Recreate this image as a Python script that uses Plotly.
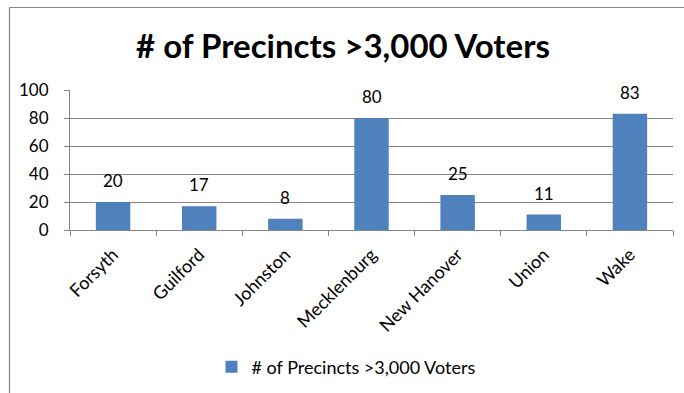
import plotly.graph_objects as go

counties = ["Forsyth", "Guilford", "Johnston", "Mecklenburg", "New Hanover", "Union", "Wake"]
precincts = [20, 17, 8, 80, 25, 11, 83]
series_name = "# of Precincts >3,000 Voters"
title_text = "# of Precincts >3,000 Voters"
y_ticks = [0, 20, 40, 60, 80, 100]

W, H = 684, 393
L, R, T, B = 70, 11, 90, 163
FONT = "Lato"
GRAY = "#868686"

fig = go.Figure()
fig.add_trace(go.Bar(
    x=counties, y=precincts, name=series_name,
    marker=dict(color="#4F81BD", line=dict(width=0)),
    showlegend=True,
))

for c, v in zip(counties, precincts):
    fig.add_annotation(x=c, y=v, text=str(v), showarrow=False,
                       yanchor="bottom", yshift=9,
                       font=dict(family=FONT, size=17, color="#000000"))

pw = W - L - R
ph = H - T - B
def px_x(p):
    return (p - L) / pw
def px_y(p):
    return (H - B - p) / ph

# chart-area border (top and left visible)
fig.add_shape(type="line", xref="paper", yref="paper",
              x0=px_x(9.5), x1=px_x(690), y0=px_y(7.5), y1=px_y(7.5),
              line=dict(color=GRAY, width=1.2))
fig.add_shape(type="line", xref="paper", yref="paper",
              x0=px_x(9.5), x1=px_x(9.5), y0=px_y(7.5), y1=px_y(400),
              line=dict(color=GRAY, width=1.2))

fig.update_layout(
    width=W, height=H,
    margin=dict(l=L, r=R, t=T, b=B),
    paper_bgcolor="white", plot_bgcolor="white",
    font=dict(family=FONT, color="#000000"),
    title=dict(text="<b>" + title_text + "</b>", x=343 / W, xanchor="center",
               y=1 - 46 / H, yanchor="middle", yref="container",
               font=dict(family=FONT, size=33, color="#000000")),
    bargap=0.6,
    showlegend=True,
    legend=dict(orientation="h", x=346 / W, xanchor="center",
                y=1 - 367 / H, yanchor="middle", xref="container", yref="container",
                font=dict(family=FONT, size=18, color="#000000"),
                itemwidth=30),
    xaxis=dict(type="category", showline=True, linecolor=GRAY, linewidth=1.2,
               ticks="outside", ticklen=5, tickcolor=GRAY, tickson="boundaries",
               tickangle=-45, ticklabelstandoff=6,
               tickfont=dict(family=FONT, size=18, color="#000000"),
               showgrid=False, fixedrange=True),
    yaxis=dict(range=[0, 100], tickvals=y_ticks, showline=True, linecolor=GRAY,
               linewidth=1.2, ticks="outside", ticklen=5, tickcolor=GRAY,
               showgrid=True, gridcolor=GRAY, gridwidth=1, zeroline=False,
               ticklabelstandoff=12,
               tickfont=dict(family=FONT, size=17, color="#000000"), fixedrange=True),
)

fig.write_html("out.html")
